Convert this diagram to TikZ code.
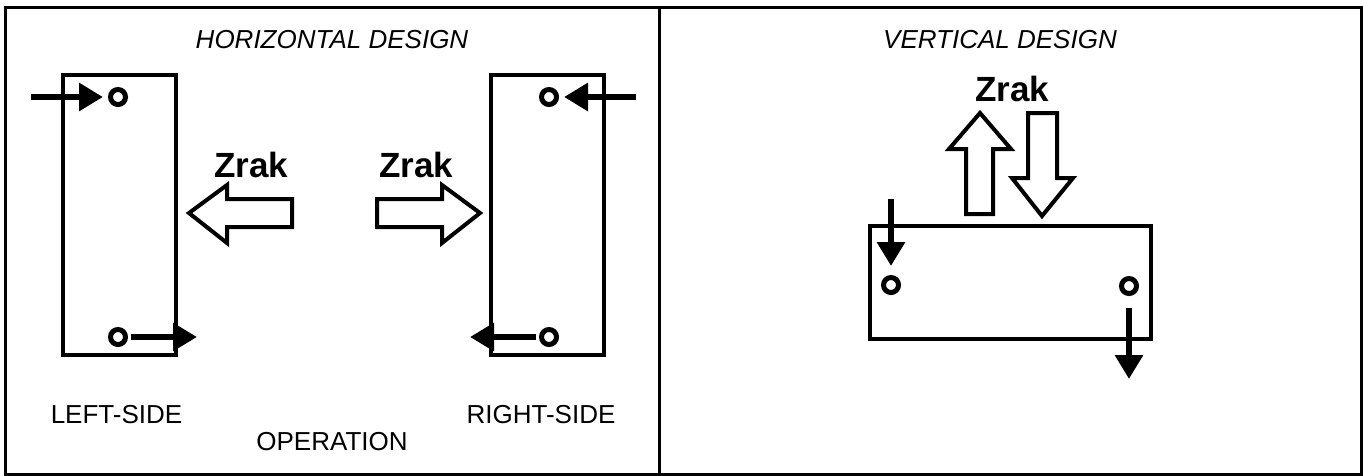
\documentclass[tikz,border=0pt]{standalone}
\usepackage{fontspec}
\setmainfont{Liberation Sans}
\usetikzlibrary{arrows.meta,positioning}

\begin{document}
\begin{tikzpicture}[x=1pt, y=-1pt,
    frame/.style={line width=3pt},
    plate/.style={draw, line width=4pt, inner sep=0pt},
    hole/.style={draw, circle, line width=5pt, minimum size=15pt, inner sep=0pt},
    feed/.style={line width=6pt, -{Triangle[length=24pt,width=27pt]}},
    airflow/.style={draw, line width=4pt, fill=white, line join=miter},
    caption/.style={font=\fontsize{26}{30}\selectfont, anchor=base},
    zrak/.style={font=\fontsize{35}{40}\selectfont\bfseries, anchor=base},
]
    \useasboundingbox (0,0) rectangle (1363,475);
    % Frame
    \draw[frame] (5,7) rectangle (1361,474);
    \draw[frame] (659,7) -- (659,474);
    % Horizontal design
    \node[caption, font=\fontsize{26}{30}\selectfont\itshape] (htitle) at (332,48) {HORIZONTAL DESIGN};
    \node[plate, minimum width=113pt, minimum height=280pt] (lplate) at (119.5,215) {};
    \node[plate, minimum width=113pt, minimum height=280pt] (rplate) at (547.5,215) {};
    \foreach \n/\x/\y in {lt/118/97, lb/118/337, rt/549/97, rb/549/337} {
        \node[hole] (\n) at (\x,\y) {};
    }
    \coordinate (lin) at (31,97);
    \coordinate (lout) at (197,337);
    \coordinate (rin) at (636,97);
    \coordinate (rout) at (470,337);
    \draw[feed, shorten >=5pt] (lin) -- (lt);
    \draw[feed, shorten <=3pt] (lb) -- (lout);
    \draw[feed, shorten >=5pt] (rin) -- (rt);
    \draw[feed, shorten <=3pt] (rb) -- (rout);
    % Air arrows
    \node[zrak] (zl) at (251,177) {Zrak};
    \node[zrak] (zr) at (416,177) {Zrak};
    \draw[airflow] (189,213) -- (227,185) -- (227,199) -- (292,199) -- (292,227)
        -- (227,227) -- (227,243) -- cycle;
    \draw[airflow] (480,213) -- (442,185) -- (442,199) -- (377,199) -- (377,227)
        -- (442,227) -- (442,243) -- cycle;
    \node[caption] (lside) at (116.5,423) {LEFT-SIDE};
    \node[caption] (rside) at (541,423) {RIGHT-SIDE};
    \node[caption] (oper) at (332,450) {OPERATION};
    % Vertical design
    \node[caption, font=\fontsize{26}{30}\selectfont\itshape] (vtitle) at (1000,48) {VERTICAL DESIGN};
    \node[plate, minimum width=281pt, minimum height=113pt] (vplate) at (1010,282) {};
    \node[hole] (vl) at (891,285) {};
    \node[hole] (vr) at (1129,286) {};
    \coordinate (vin) at (891,199);
    \coordinate (vout) at (1129,379);
    \draw[feed, shorten >=9pt] (vin) -- (vl);
    \draw[feed, shorten <=12pt] (vr) -- (vout);
    \node[zrak] (zv) at (1012,101) {Zrak};
    \draw[airflow] (980,113) -- (1011,149) -- (993,149) -- (993,214) -- (966,214)
        -- (966,149) -- (949,149) -- cycle;
    \draw[airflow] (1042,216) -- (1073,178) -- (1057,178) -- (1057,113) -- (1028,113)
        -- (1028,178) -- (1012,178) -- cycle;
\end{tikzpicture}
\end{document}
